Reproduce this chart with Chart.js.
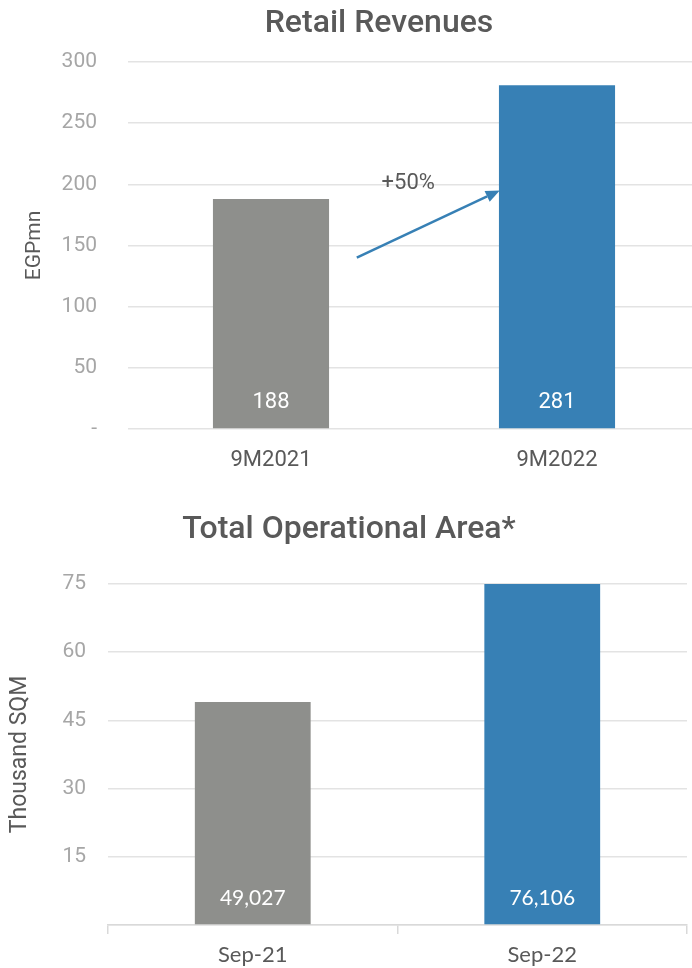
<!DOCTYPE html>
<html>
<head>
<meta charset="utf-8">
<script src="https://cdn.jsdelivr.net/npm/chart.js@4/dist/chart.umd.min.js"></script>
<style>
  html, body { margin: 0; padding: 0; background: #ffffff; overflow: hidden; width: 692px; height: 968px; }
  #c1 { position: absolute; top: 0; left: 0; }
  #c2 { position: absolute; top: 485px; left: 0; }
</style>
</head>
<body>
<canvas id="c1" width="700" height="485"></canvas>
<canvas id="c2" width="692" height="483"></canvas>
<script>
// Retail revenues, EGP millions
const revenueCategories = ['9M2021', '9M2022'];
const revenueValues = [188, 281];
const revenueTicks = [0, 50, 100, 150, 200, 250, 300];
const revenueGrowthLabel = '+50%';

// Total operational area, thousand square metres
const areaCategories = ['Sep-21', 'Sep-22'];
const areaValues = [49.027, 76.106];
const areaTicks = [0, 15, 30, 45, 60, 75];

const GREY = '#8e8f8c';
const BLUE = '#3780b5';
const DARK = '#595959';
const LIGHT = '#a6a6a6';
const GRID = '#e3e3e3';

// Heading drawn at a fixed centre / baseline inside the canvas
function heading(text, cx, baseline) {
  return {
    id: 'heading',
    afterDraw(chart) {
      const ctx = chart.ctx;
      ctx.save();
      ctx.fillStyle = DARK;
      ctx.font = '500 32px Roboto';
      ctx.textAlign = 'center';
      ctx.textBaseline = 'alphabetic';
      ctx.fillText(text, cx, baseline);
      ctx.restore();
    }
  };
}

// White value labels sitting just above each bar's base
function valueLabels(fontFamily, fontSize, format) {
  return {
    id: 'valueLabels',
    afterDatasetsDraw(chart) {
      const ctx = chart.ctx;
      const y0 = chart.scales.y.getPixelForValue(0);
      const meta = chart.getDatasetMeta(0);
      const data = chart.data.datasets[0].data;
      ctx.save();
      ctx.fillStyle = '#ffffff';
      ctx.font = fontSize + 'px ' + fontFamily;
      ctx.textAlign = 'center';
      ctx.textBaseline = 'middle';
      meta.data.forEach((bar, i) => {
        ctx.fillText(format(data[i]), bar.x, y0 - 27);
      });
      ctx.restore();
    }
  };
}

// Growth arrow between the two revenue bars
const growthArrow = {
  id: 'growthArrow',
  afterDatasetsDraw(chart) {
    const { ctx, scales: { x, y } } = chart;
    const step = x.getPixelForValue(1) - x.getPixelForValue(0);
    const px = (idx) => x.getPixelForValue(0) + idx * step;
    const x0 = px(0.3), y0 = y.getPixelForValue(140);
    const x1 = px(0.8), y1 = y.getPixelForValue(195);
    const ang = Math.atan2(y1 - y0, x1 - x0);
    const head = 14, half = 6;
    ctx.save();
    ctx.strokeStyle = BLUE;
    ctx.fillStyle = BLUE;
    ctx.lineWidth = 2.5;
    ctx.beginPath();
    ctx.moveTo(x0, y0);
    ctx.lineTo(x1 - head * Math.cos(ang), y1 - head * Math.sin(ang));
    ctx.stroke();
    ctx.beginPath();
    ctx.moveTo(x1, y1);
    ctx.lineTo(x1 - head * Math.cos(ang) - half * Math.sin(ang), y1 - head * Math.sin(ang) + half * Math.cos(ang));
    ctx.lineTo(x1 - head * Math.cos(ang) + half * Math.sin(ang), y1 - head * Math.sin(ang) - half * Math.cos(ang));
    ctx.closePath();
    ctx.fill();
    ctx.fillStyle = DARK;
    ctx.font = '22px Roboto';
    ctx.textAlign = 'center';
    ctx.textBaseline = 'middle';
    ctx.fillText(revenueGrowthLabel, px(0.48), y.getPixelForValue(201));
    ctx.restore();
  }
};

new Chart(document.getElementById('c1'), {
  type: 'bar',
  data: {
    labels: revenueCategories,
    datasets: [{
      data: revenueValues,
      backgroundColor: [GREY, BLUE],
      borderWidth: 0,
      categoryPercentage: 1,
      barPercentage: 0.406
    }]
  },
  options: {
    responsive: false,
    animation: false,
    layout: { padding: { top: 62 } },
    plugins: {
      legend: { display: false },
      tooltip: { enabled: false },
      title: { display: false }
    },
    scales: {
      x: {
        grid: { display: false, drawTicks: false },
        border: { display: false },
        ticks: { color: DARK, font: { family: 'Roboto', size: 22 }, padding: 18 },
        afterFit(s) { s.height = 56; }
      },
      y: {
        min: 0, max: 300,
        afterBuildTicks(s) { s.ticks = revenueTicks.map(v => ({ value: v })); },
        grid: { color: GRID, lineWidth: 1.5, drawTicks: false },
        border: { display: false },
        ticks: {
          color: LIGHT, font: { family: 'Roboto', size: 21 }, padding: 31,
          callback: (v) => v === 0 ? '-' : v
        },
        title: {
          display: true, text: 'EGPmn', color: DARK,
          font: { family: 'Roboto', size: 21 }, padding: { top: 22 }
        },
        afterFit(s) { s.width = 128; }
      }
    }
  },
  plugins: [heading('Retail Revenues', 379, 32), valueLabels('Roboto', 22, v => String(v)), growthArrow]
});

new Chart(document.getElementById('c2'), {
  type: 'bar',
  data: {
    labels: areaCategories,
    datasets: [{
      data: areaValues,
      backgroundColor: [GREY, BLUE],
      borderWidth: 0,
      categoryPercentage: 1,
      barPercentage: 0.40
    }]
  },
  options: {
    responsive: false,
    animation: false,
    layout: { padding: { top: 99, right: 5 } },
    plugins: {
      legend: { display: false },
      tooltip: { enabled: false },
      title: { display: false }
    },
    scales: {
      x: {
        grid: { display: true, drawOnChartArea: false, drawTicks: true, tickLength: 9, color: '#d9d9d9', lineWidth: 1.5, offset: true },
        border: { display: true, color: '#d9d9d9', width: 1.5 },
        ticks: { color: DARK, font: { family: 'Lato', size: 22 }, padding: 8 },
        afterFit(s) { s.height = 43; }
      },
      y: {
        min: 0, max: 75,
        afterBuildTicks(s) { s.ticks = areaTicks.map(v => ({ value: v })); },
        grid: { color: GRID, lineWidth: 1.5, drawTicks: false },
        border: { display: false },
        ticks: {
          color: LIGHT, font: { family: 'Roboto', size: 21 }, padding: 22,
          callback: (v) => v === 0 ? '' : v
        },
        title: {
          display: true, text: 'Thousand SQM', color: DARK,
          font: { family: 'Roboto', size: 23 }, padding: { top: 6 }
        },
        afterFit(s) { s.width = 108; }
      }
    }
  },
  plugins: [heading('Total Operational Area*', 349, 53), valueLabels('Lato', 21, v => Math.round(v * 1000).toLocaleString('en-US'))]
});
</script>
</body>
</html>
